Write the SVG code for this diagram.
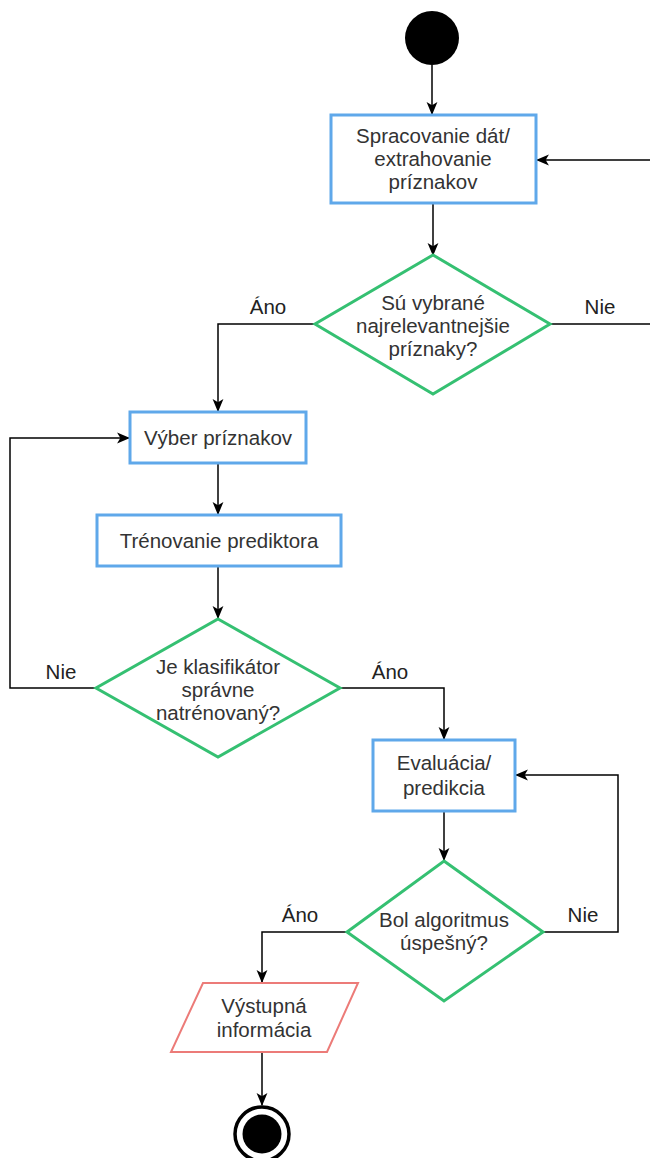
<svg xmlns="http://www.w3.org/2000/svg" width="650" height="1158" viewBox="0 0 650 1158">
  <style>
    .proc { fill: #ffffff; stroke: #5fa8ea; stroke-width: 3; }
    .dec { fill: #ffffff; stroke: #35c072; stroke-width: 3; }
    .io { fill: #ffffff; stroke: #ec7b78; stroke-width: 2; }
    .txt { font-family: "Liberation Sans", Arial, sans-serif; font-size: 20.5px; fill: #333333; text-anchor: middle; }
    .lbl { font-family: "Liberation Sans", Arial, sans-serif; font-size: 20.5px; fill: #222222; text-anchor: middle; }
    .edge { fill: none; stroke: #000000; stroke-width: 1.5; marker-end: url(#arrow); }
  </style>
  <defs>
    <marker id="arrow" viewBox="0 0 12 12" refX="11" refY="6" markerWidth="13" markerHeight="13" markerUnits="userSpaceOnUse" orient="auto">
      <path d="M0,1 L12,6 L0,11 L3,6 Z" fill="#000000"/>
    </marker>
  </defs>
  <rect width="650" height="1158" fill="#ffffff"/>

  <g id="connectors">
    <path class="edge" d="M432,65 L432,114"/>
    <path class="edge" d="M656,324 L550,324 M656,324 L656,160 L537,160"/>
    <path class="edge" d="M433,203 L433,255"/>
    <path class="edge" d="M315,324 L218,324 L218,411"/>
    <path class="edge" d="M218,463 L218,514"/>
    <path class="edge" d="M218,566 L218,618"/>
    <path class="edge" d="M96,688 L10,688 L10,438 L129,438"/>
    <path class="edge" d="M340,688 L444,688 L444,739"/>
    <path class="edge" d="M444,811 L444,860"/>
    <path class="edge" d="M543,932 L618,932 L618,775 L516,775"/>
    <path class="edge" d="M347,932 L262,932 L262,982"/>
    <path class="edge" d="M262,1052 L262,1105"/>
  </g>

  <g id="edge-labels">
    <text class="lbl" x="268" y="314">Áno</text>
    <text class="lbl" x="600" y="314">Nie</text>
    <text class="lbl" x="61" y="679">Nie</text>
    <text class="lbl" x="390" y="679">Áno</text>
    <text class="lbl" x="583" y="922">Nie</text>
    <text class="lbl" x="300" y="922">Áno</text>
  </g>

  <g id="start">
    <circle cx="432" cy="38" r="27" fill="#000000"/>
  </g>

  <g id="spracovanie">
    <rect class="proc" x="331" y="115" width="205" height="88"/>
    <text class="txt" x="433" y="143">Spracovanie dát/</text>
    <text class="txt" x="433" y="166">extrahovanie</text>
    <text class="txt" x="433" y="189">príznakov</text>
  </g>

  <g id="rozhodnutie-priznaky">
    <polygon class="dec" points="433,255 550,324 433,394 315,324"/>
    <text class="txt" x="433" y="310">Sú vybrané</text>
    <text class="txt" x="433" y="333">najrelevantnejšie</text>
    <text class="txt" x="433" y="356">príznaky?</text>
  </g>

  <g id="vyber">
    <rect class="proc" x="130" y="412" width="176" height="51"/>
    <text class="txt" x="218" y="445">Výber príznakov</text>
  </g>

  <g id="trenovanie">
    <rect class="proc" x="97" y="515" width="244" height="51"/>
    <text class="txt" x="219" y="548">Trénovanie prediktora</text>
  </g>

  <g id="rozhodnutie-klasifikator">
    <polygon class="dec" points="218,619 340,688 218,757 96,688"/>
    <text class="txt" x="218" y="674">Je klasifikátor</text>
    <text class="txt" x="218" y="697">správne</text>
    <text class="txt" x="218" y="720">natrénovaný?</text>
  </g>

  <g id="evaluacia">
    <rect class="proc" x="373" y="740" width="142" height="71"/>
    <text class="txt" x="444" y="770">Evaluácia/</text>
    <text class="txt" x="444" y="795">predikcia</text>
  </g>

  <g id="rozhodnutie-algoritmus">
    <polygon class="dec" points="444,861 543,932 444,1001 347,932"/>
    <text class="txt" x="444" y="927">Bol algoritmus</text>
    <text class="txt" x="444" y="950">úspešný?</text>
  </g>

  <g id="vystup">
    <polygon class="io" points="203,983 358,983 327,1052 171,1052"/>
    <text class="txt" x="264" y="1013">Výstupná</text>
    <text class="txt" x="264" y="1037">informácia</text>
  </g>

  <g id="end">
    <circle cx="262" cy="1134" r="27" fill="#ffffff" stroke="#000000" stroke-width="3.5"/>
    <circle cx="262" cy="1134" r="19.5" fill="#000000"/>
  </g>
</svg>
